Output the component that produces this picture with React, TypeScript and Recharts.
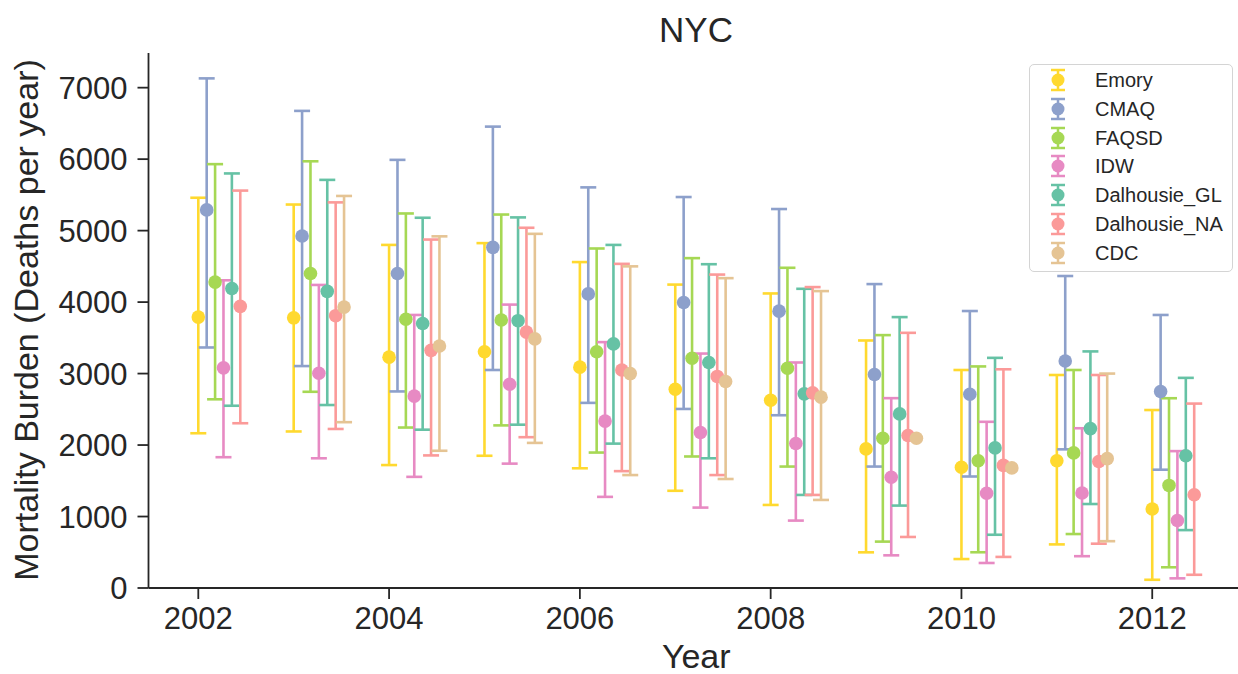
import React from 'react';
import { ComposedChart, Scatter, XAxis, YAxis, ErrorBar, Legend } from 'recharts';

const years = [2002, 2003, 2004, 2005, 2006, 2007, 2008, 2009, 2010, 2011, 2012];
const xTicks = [2002, 2004, 2006, 2008, 2010, 2012];
const yTicks = [0, 1000, 2000, 3000, 4000, 5000, 6000, 7000];

const seriesNames = ['Emory', 'CMAQ', 'FAQSD', 'IDW', 'Dalhousie_GL', 'Dalhousie_NA', 'CDC'];
const seriesColors = ['#ffd92f', '#8da0cb', '#a6d854', '#e78ac3', '#66c2a5', '#fb9a99', '#e5c494'];

const emory = [3790, 3780, 3230, 3305, 3090, 2780, 2627, 1946, 1690, 1780, 1105];
const emoryLo = [2165, 2190, 1720, 1850, 1675, 1360, 1162, 499, 405, 610, 115];
const emoryHi = [5460, 5365, 4800, 4825, 4560, 4245, 4121, 3463, 3050, 2980, 2490];

const cmaq = [5290, 4925, 4400, 4765, 4115, 3995, 3873, 2987, 2710, 3175, 2750];
const cmaqLo = [3365, 3105, 2750, 3050, 2590, 2505, 2417, 1699, 1560, 1940, 1655];
const cmaqHi = [7130, 6675, 5990, 6455, 5605, 5470, 5302, 4252, 3875, 4365, 3820];

const faqsd = [4280, 4400, 3760, 3750, 3305, 3215, 3075, 2095, 1780, 1890, 1435];
const faqsdLo = [2640, 2745, 2245, 2275, 1895, 1840, 1699, 649, 500, 755, 290];
const faqsdHi = [5930, 5970, 5240, 5225, 4750, 4615, 4480, 3538, 3100, 3050, 2655];

const idw = [3080, 3005, 2685, 2850, 2335, 2175, 2021, 1549, 1325, 1330, 945];
const idwLo = [1830, 1815, 1555, 1740, 1275, 1125, 943, 457, 350, 445, 135];
const idwHi = [4305, 4240, 3820, 3965, 3440, 3280, 3155, 2656, 2325, 2235, 1915];

const dalGL = [4190, 4150, 3700, 3740, 3415, 3155, 2716, 2436, 1960, 2230, 1850];
const dalGLLo = [2550, 2560, 2215, 2285, 2020, 1815, 1302, 1153, 745, 1175, 810];
const dalGLHi = [5800, 5710, 5180, 5185, 4800, 4530, 4186, 3790, 3220, 3310, 2940];

const dalNA = [3940, 3810, 3325, 3580, 3050, 2960, 2730, 2133, 1715, 1770, 1305];
const dalNALo = [2305, 2225, 1855, 2110, 1635, 1580, 1302, 714, 435, 620, 185];
const dalNAHi = [5560, 5395, 4875, 5040, 4535, 4385, 4210, 3570, 3060, 2980, 2580];

const cdc = [null, 3930, 3385, 3485, 3000, 2890, 2670, 2095, 1680, 1810, null];
const cdcLo = [null, 2320, 1920, 2030, 1580, 1525, 1232, null, null, 655, null];
const cdcHi = [null, 5485, 4920, 4955, 4500, 4335, 4154, null, null, 3000, null];

const dodgeStep = 0.088;

type Pt = { x: number; y: number; err?: [number, number] };

function buildSeries(idx: number, vals: (number | null)[], lo: (number | null)[], hi: (number | null)[]): Pt[] {
  const out: Pt[] = [];
  years.forEach((yr, i) => {
    const v = vals[i];
    if (v == null) return;
    const l = lo[i];
    const h = hi[i];
    out.push({
      x: yr + idx * dodgeStep,
      y: v,
      err: l == null || h == null ? undefined : [v - l, h - v],
    });
  });
  return out;
}

const allSeries = [
  buildSeries(0, emory, emoryLo, emoryHi),
  buildSeries(1, cmaq, cmaqLo, cmaqHi),
  buildSeries(2, faqsd, faqsdLo, faqsdHi),
  buildSeries(3, idw, idwLo, idwHi),
  buildSeries(4, dalGL, dalGLLo, dalGLHi),
  buildSeries(5, dalNA, dalNALo, dalNAHi),
  buildSeries(6, cdc, cdcLo, cdcHi),
];

const FONT = '"Liberation Sans", Arial, Helvetica, sans-serif';
const INK = '#262626';
const X_DOMAIN: [number, number] = [2001.478, 2012.962];
const Y_DOMAIN: [number, number] = [0, 7485];

const renderLegend = () => (
  <div
    style={{
      position: 'relative',
      width: 204,
      height: 208,
      boxSizing: 'border-box',
      border: '1px solid #d4d4d4',
      borderRadius: 5,
      background: 'rgba(255,255,255,0.85)',
      fontFamily: FONT,
    }}
  >
    {seriesNames.map((name, i) => (
      <div
        key={name}
        style={{
          position: 'absolute',
          left: 0,
          top: 15.3 + 28.7 * i - 14,
          height: 28,
          width: 204,
          display: 'flex',
          alignItems: 'center',
        }}
      >
        <svg width={30} height={28} style={{ position: 'absolute', left: 13 }}>
          <line x1={15} x2={15} y1={4} y2={24} stroke={seriesColors[i]} strokeWidth={2.5} />
          <line x1={8} x2={22} y1={4} y2={4} stroke={seriesColors[i]} strokeWidth={2.5} />
          <line x1={8} x2={22} y1={24} y2={24} stroke={seriesColors[i]} strokeWidth={2.5} />
          <circle cx={15} cy={14} r={6.5} fill={seriesColors[i]} />
        </svg>
        <span style={{ position: 'absolute', left: 65, fontSize: 20, color: INK, lineHeight: '28px' }}>{name}</span>
      </div>
    ))}
  </div>
);

export default function App() {
  return (
    <div
      style={{
        position: 'absolute',
        left: 0,
        top: 0,
        width: 1238,
        height: 674,
        overflow: 'hidden',
        background: '#ffffff',
        fontFamily: FONT,
      }}
    >
      <ComposedChart width={1260} height={674} margin={{ top: 53, right: 16, bottom: 0, left: 0 }}>
        <XAxis
          xAxisId="top"
          orientation="top"
          type="number"
          dataKey="x"
          domain={X_DOMAIN}
          allowDataOverflow
          tick={false}
          tickLine={false}
          height={0}
          axisLine={{ stroke: INK, strokeWidth: 1.8 }}
        />
        <XAxis
          type="number"
          dataKey="x"
          domain={X_DOMAIN}
          allowDataOverflow
          ticks={xTicks}
          interval={0}
          height={86}
          tickSize={11}
          tickMargin={8}
          tick={{ fontSize: 31, fill: INK, fontFamily: FONT }}
          tickLine={{ stroke: INK, strokeWidth: 1.8 }}
          axisLine={{ stroke: INK, strokeWidth: 1.8 }}
          label={{ value: 'Year', position: 'insideBottom', offset: 6, fontSize: 34, fill: INK, fontFamily: FONT }}
        />
        <YAxis
          type="number"
          dataKey="y"
          domain={Y_DOMAIN}
          allowDataOverflow
          ticks={yTicks}
          interval={0}
          width={148.5}
          tickSize={11}
          tickMargin={10}
          tick={{ fontSize: 31, fill: INK, fontFamily: FONT }}
          tickLine={{ stroke: INK, strokeWidth: 1.8 }}
          axisLine={{ stroke: INK, strokeWidth: 1.8 }}
        />
        <Legend
          layout="vertical"
          align="center"
          verticalAlign="middle"
          content={renderLegend}
          wrapperStyle={{ position: 'absolute', left: 1029, top: 64, width: 204, height: 208 }}
        />
        {allSeries.map((data, i) => (
          <Scatter
            key={seriesNames[i]}
            name={seriesNames[i]}
            data={data}
            dataKey="y"
            fill={seriesColors[i]}
            isAnimationActive={false}
            shape={(p: any) => <circle cx={p.cx} cy={p.cy} r={6.8} fill={seriesColors[i]} />}
          >
            <ErrorBar
              dataKey="err"
              direction="y"
              width={8}
              strokeWidth={2.6}
              style={{ strokeWidth: 2.6 }}
              stroke={seriesColors[i]}
              isAnimationActive={false}
            />
          </Scatter>
        ))}
      </ComposedChart>
      <svg
        width={1238}
        height={674}
        style={{ position: 'absolute', left: 0, top: 0, pointerEvents: 'none' }}
      >
        <text x={696} y={42} textAnchor="middle" fontSize={35} fill={INK} fontFamily={FONT}>
          NYC
        </text>
        <text
          x={38}
          y={320}
          textAnchor="middle"
          fontSize={34}
          fill={INK}
          fontFamily={FONT}
          transform="rotate(-90, 38, 320)"
        >
          Mortality Burden (Deaths per year)
        </text>
      </svg>
    </div>
  );
}
